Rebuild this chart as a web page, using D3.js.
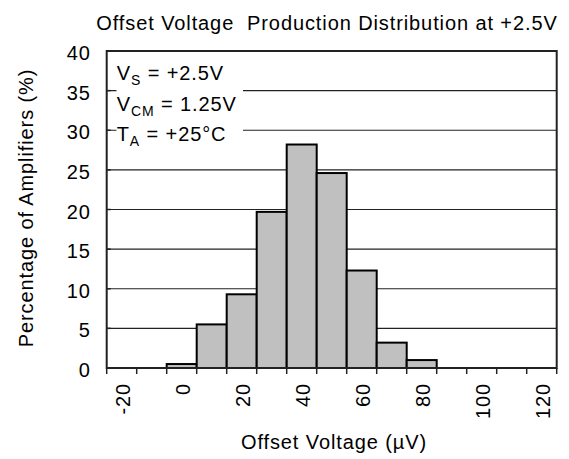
<!DOCTYPE html>
<html><head><meta charset="utf-8">
<script src="https://cdn.jsdelivr.net/npm/d3@7"></script>
<style>
body{margin:0;background:#fff;}
text{font-family:"Liberation Sans",Arial,sans-serif;fill:#000;letter-spacing:0.9px;}
</style></head>
<body>
<script>
const bins = [-20,-10,0,10,20,30,40,50,60,70,80,90,100,110,120];
const percents = [0,0,0.5,5.5,9.3,19.7,28.2,24.6,12.3,3.2,1.0,0,0,0,0];
const xTickLabels = [-20,0,20,40,60,80,100,120];
const yTicks = [0,5,10,15,20,25,30,35,40];
const title = "Offset Voltage  Production Distribution at +2.5V";
const xTitle = "Offset Voltage (µV)";
const yTitle = "Percentage of Amplifiers (%)";
const notes = [["V","S"," = +2.5V"],["V","CM"," = 1.25V"],["T","A"," = +25°C"]];

const W=569,H=459;
const m={l:106.7,r:12.3,t:51,b:91};
const svg=d3.select("body").append("svg").attr("width",W).attr("height",H);
const x=d3.scaleBand().domain(bins).range([m.l,W-m.r]).padding(0);
const y=d3.scaleLinear().domain([0,40]).range([H-m.b,m.t]);
const FS=20;

// gridlines
svg.append("g").selectAll("line").data(yTicks.filter(d=>d>0&&d<40)).join("line")
  .attr("x1",m.l).attr("x2",W-m.r).attr("y1",d=>y(d)).attr("y2",d=>y(d))
  .attr("stroke","#222").attr("stroke-width",1.2);

// annotation box (white)
svg.append("rect").attr("x",116.5).attr("y",56).attr("width",126.5).attr("height",92).attr("fill","#fff");

// bars
svg.append("g").selectAll("rect").data(bins.map((b,i)=>({b,v:percents[i]})).filter(d=>d.v>0)).join("rect")
  .attr("x",d=>x(d.b)).attr("width",x.bandwidth())
  .attr("y",d=>y(d.v)).attr("height",d=>y(0)-y(d.v))
  .attr("fill","#c0c0c0").attr("stroke","#000").attr("stroke-width",2);

// frame
svg.append("rect").attr("x",m.l).attr("y",m.t).attr("width",W-m.r-m.l).attr("height",H-m.b-m.t)
  .attr("fill","none").attr("stroke","#222").attr("stroke-width",2);

// y ticks inside
svg.append("g").selectAll("line").data(yTicks).join("line")
  .attr("x1",m.l).attr("x2",m.l+4).attr("y1",d=>y(d)).attr("y2",d=>y(d))
  .attr("stroke","#222").attr("stroke-width",1.5);
svg.append("g").selectAll("text").data(yTicks).join("text")
  .attr("x",m.l-16).attr("y",d=>y(d)).attr("dy","0.45em").attr("text-anchor","end")
  .attr("font-size",FS).text(d=>d);

// x ticks at bin boundaries
const bounds=bins.map(b=>x(b)).concat([x(bins[bins.length-1])+x.bandwidth()]);
svg.append("g").selectAll("line").data(bounds).join("line")
  .attr("x1",d=>d).attr("x2",d=>d).attr("y1",y(0)).attr("y2",y(0)+6)
  .attr("stroke","#222").attr("stroke-width",1.5);
svg.append("g").selectAll("text").data(xTickLabels).join("text")
  .attr("transform",d=>`translate(${x(d)+x.bandwidth()/2},${y(0)+15}) rotate(-90)`)
  .attr("dy","0.4em").attr("text-anchor","end").attr("font-size",FS).text(d=>d);

// titles
svg.append("text").attr("x",327).attr("y",30).attr("text-anchor","middle")
  .attr("font-size",FS).style("white-space","pre").text(title);
svg.append("text").attr("x",334).attr("y",449).attr("text-anchor","middle")
  .attr("font-size",FS).text(xTitle);
svg.append("text").attr("transform",`translate(33,208) rotate(-90)`)
  .attr("text-anchor","middle").attr("font-size",FS).text(yTitle);

// annotations
const nb=[80,111,141];
notes.forEach((n,i)=>{
  const t=svg.append("text").attr("x",116.7).attr("y",nb[i]).attr("font-size",FS);
  t.append("tspan").text(n[0]);
  t.append("tspan").attr("font-size",14).attr("dy",5).text(n[1]);
  t.append("tspan").attr("dy",-5).text(n[2]);
});
</script>
</body></html>
